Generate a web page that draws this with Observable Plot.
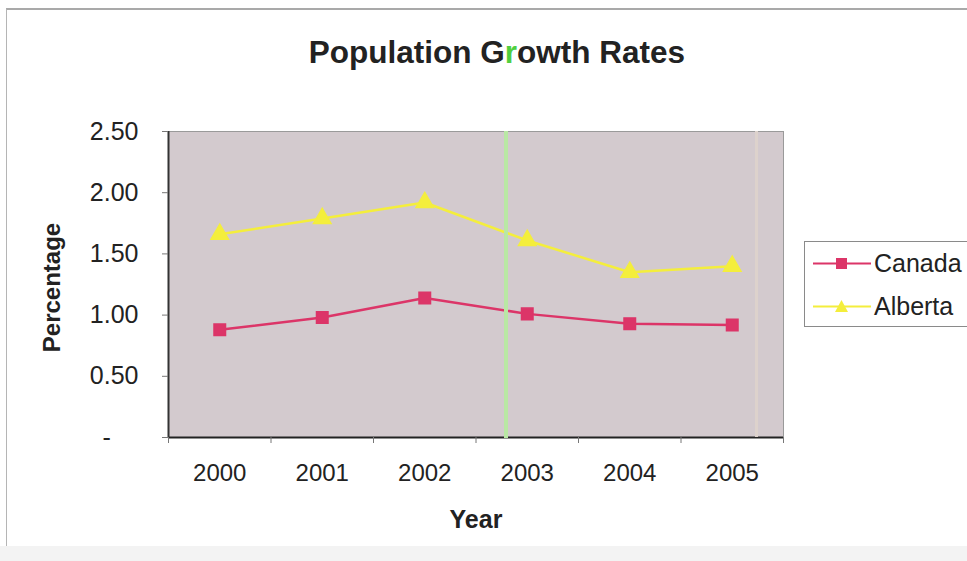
<!DOCTYPE html>
<html>
<head>
<meta charset="utf-8">
<script src="https://cdn.jsdelivr.net/npm/d3@7"></script>
<script src="https://cdn.jsdelivr.net/npm/@observablehq/plot@0.6"></script>
<style>
  html, body { margin: 0; padding: 0; background: #fff; }
  body { font-family: "Liberation Sans", Arial, sans-serif; }
  #page { position: relative; width: 967px; height: 561px; overflow: hidden; background: #fff; }
  #frame { position: absolute; left: 6px; top: 8px; width: 980px; height: 537px;
           border-top: 2px solid #a9a9a9; border-left: 1px solid #b5b5b5; }
  #foot { position: absolute; left: 0; top: 546px; width: 967px; height: 15px; background: #f3f3f3; }
  #title { position: absolute; left: 0; width: 994px; top: 37px; text-align: center;
           font-size: 31.5px; font-weight: bold; line-height: 1; color: #222; }
  #chart { position: absolute; left: 0; top: 0; }
  #legend { position: absolute; left: 804px; top: 241px; width: 175px; height: 84px;
            border: 1px solid #8a8a8a; background: #fff; }
  .item { position: absolute; left: 8px; height: 30px; display: flex; align-items: center;
          font-size: 25px; color: #222; }
  .item svg { margin-right: 3px; }
  #streak { position: absolute; left: 504px; top: 131px; width: 4px; height: 307px; background: #b9e8a4; }
  #streak2 { position: absolute; left: 755px; top: 131px; width: 3px; height: 306px; background: #ddd2cc; }
</style>
</head>
<body>
<div id="page">
  <div id="frame"></div>
  <div id="foot"></div>
  <div id="title">Population G<span style="color:#4fcf3f">r</span>owth Rates</div>
  <div id="chart"></div>
  <div id="streak"></div>
  <div id="streak2"></div>
  <div id="legend"></div>
</div>
<script>
// Annual population growth, percent
const years = [2000, 2001, 2002, 2003, 2004, 2005];
const canada = [0.88, 0.98, 1.14, 1.01, 0.93, 0.92];
const alberta = [1.66, 1.79, 1.92, 1.61, 1.35, 1.40];
const seriesNames = ["Canada", "Alberta"];
const seriesColors = ["#dc3568", "#f4ee3c"];
const seriesSymbols = ["square", "triangle"];
const yTicks = [0, 0.5, 1.0, 1.5, 2.0, 2.5];

const rows = [
  ...years.map((year, i) => ({series: "Canada", year, value: canada[i]})),
  ...years.map((year, i) => ({series: "Alberta", year, value: alberta[i]}))
];

// category boundaries sit half a year either side of each label
const xDomain = [years[0] - 0.5, years[years.length - 1] + 0.5];
const bounds = d3.range(xDomain[0], xDomain[1] + 0.01, 1);

const chart = Plot.plot({
  width: 967,
  height: 561,
  marginLeft: 168,
  marginRight: 184,
  marginTop: 131,
  marginBottom: 124,
  style: {fontFamily: "'Liberation Sans', Arial, sans-serif", fontSize: "24px", color: "#222", background: "transparent"},
  x: {type: "linear", domain: xDomain, label: null},
  y: {domain: [0, 2.5], label: null},
  color: {domain: seriesNames, range: seriesColors},
  symbol: {domain: seriesNames, range: seriesSymbols},
  marks: [
    Plot.frame({fill: "#d3cace", stroke: "#9a9a9a"}),
    Plot.ruleY([0], {stroke: "#222", strokeWidth: 2}),
    Plot.ruleX([xDomain[0]], {stroke: "#333", strokeWidth: 2}),
    Plot.axisX({ticks: bounds, tickSize: 6, tickFormat: () => "", stroke: "#777", label: null}),
    Plot.axisX({ticks: years, tickSize: 0, tickPadding: 26, tickFormat: d3.format("d"), fontSize: 24, label: null}),
    Plot.axisY({ticks: yTicks, tickSize: 6, tickPadding: 24, stroke: "#777", fontSize: 25, label: null,
      tickFormat: v => v === 0 ? "-\u00a0\u00a0\u00a0\u00a0" : v.toFixed(2)}),
    Plot.line(rows, {x: "year", y: "value", z: "series", stroke: "series", strokeWidth: 2.5}),
    Plot.dot(rows, {x: "year", y: "value", symbol: "series", fill: "series", stroke: "series", r: 6.5}),
    Plot.text(["Year"], {frameAnchor: "bottom", dy: 90, fontWeight: "bold", fontSize: 25, fill: "#222", letterSpacing: "1px"}),
    Plot.text(["Percentage"], {frameAnchor: "left", dx: -116, dy: 3, rotate: -90, textAnchor: "middle", fontWeight: "bold", fontSize: 24, fill: "#222"})
  ]
});
document.getElementById("chart").appendChild(chart);

// legend: line sample with marker, then series name
const legend = document.getElementById("legend");
seriesNames.forEach((name, i) => {
  const item = document.createElement("div");
  item.className = "item";
  item.style.top = (i === 0 ? 6 : 49) + "px";
  const mark = seriesSymbols[i] === "square"
    ? `<rect x="23" y="5" width="11" height="11" fill="${seriesColors[i]}"/>`
    : `<path d="M28.5,4 L35,16 L22,16 Z" fill="${seriesColors[i]}"/>`;
  item.innerHTML = `<svg width="58" height="20"><line x1="0" x2="58" y1="10.5" y2="10.5" stroke="${seriesColors[i]}" stroke-width="2"/>${mark}</svg><span>${name}</span>`;
  legend.appendChild(item);
});
</script>
</body>
</html>
